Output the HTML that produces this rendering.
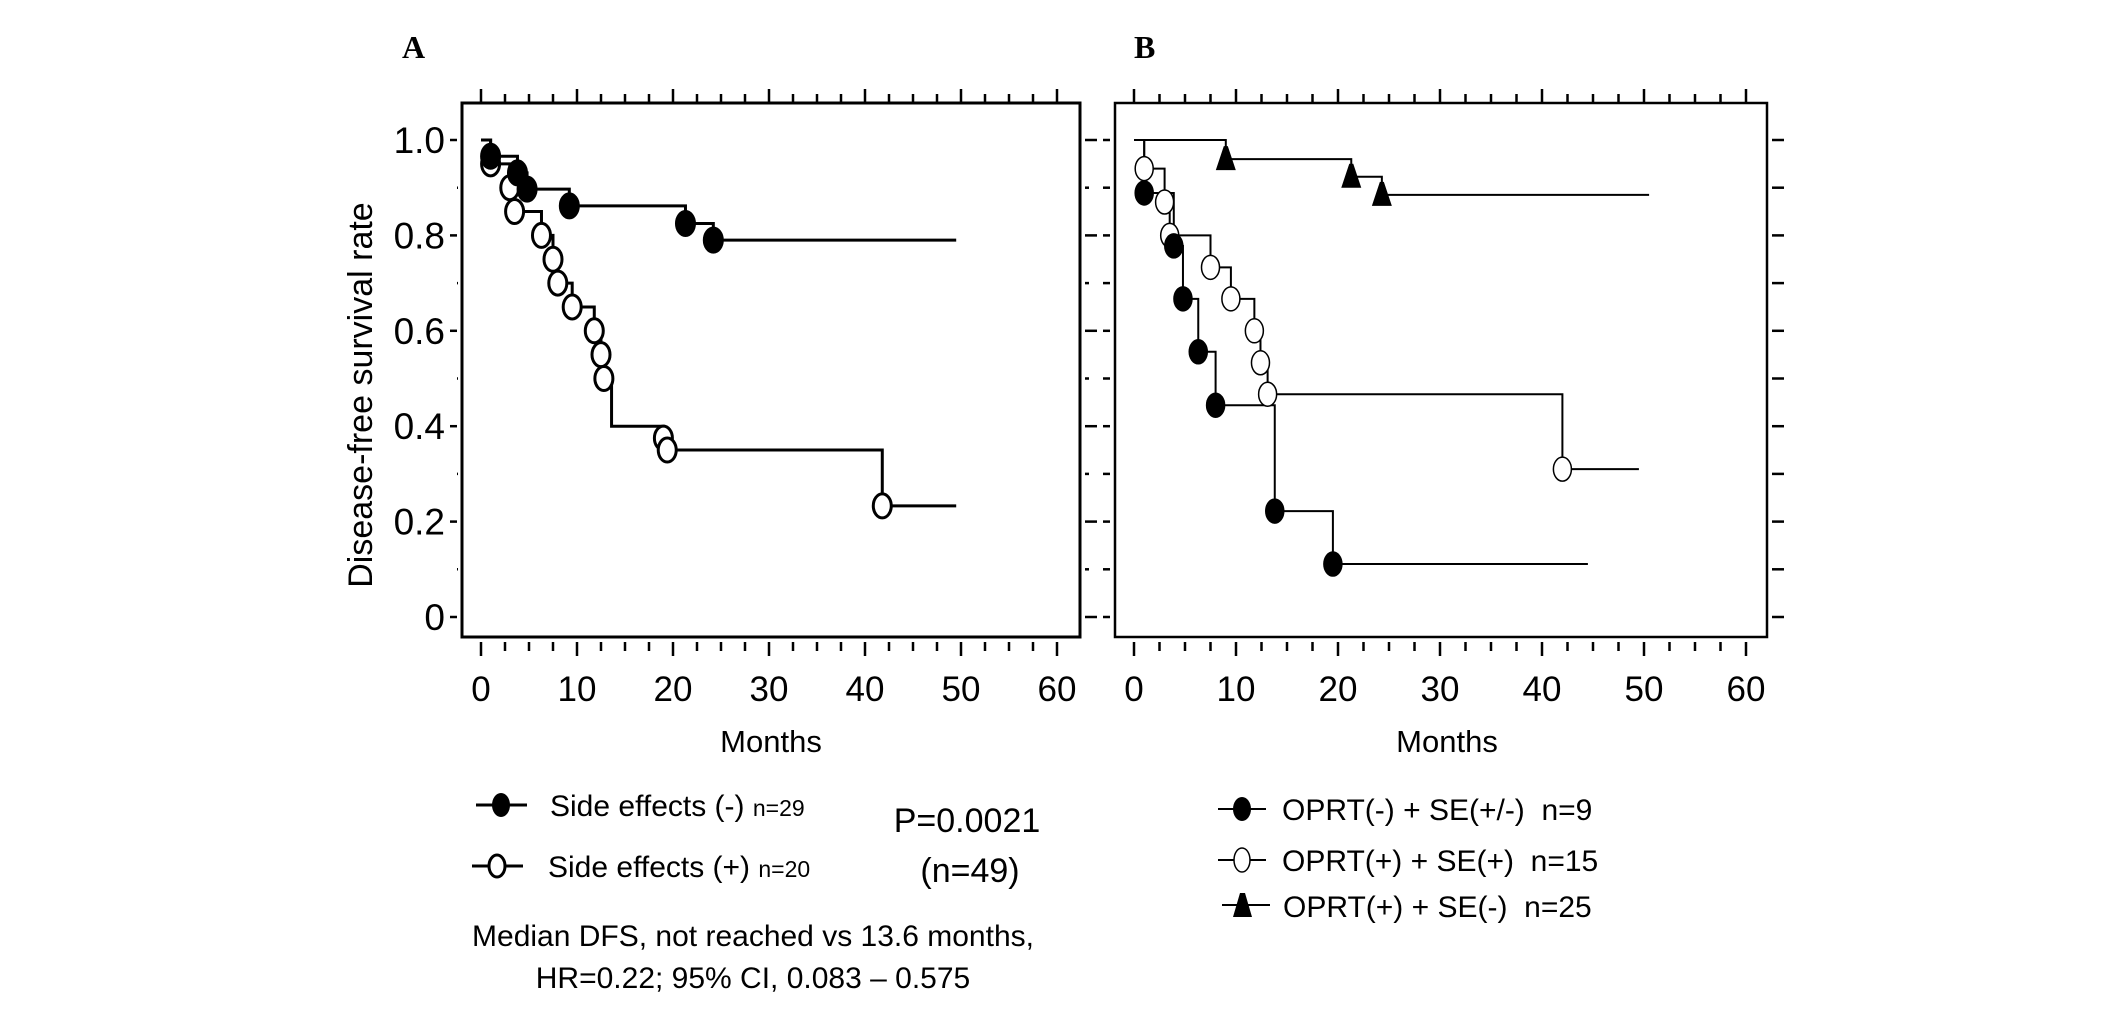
<!DOCTYPE html>
<html><head><meta charset="utf-8"><style>
body{margin:0;background:#fff;}
svg{display:block;font-family:"Liberation Sans",sans-serif;}
</style></head><body>
<svg id="c" width="2126" height="1015" viewBox="0 0 2126 1015" xmlns="http://www.w3.org/2000/svg">
<text x="402" y="58" font-family="Liberation Serif" font-weight="bold" font-size="32">A</text>
<text x="1134" y="58" font-family="Liberation Serif" font-weight="bold" font-size="32">B</text>
<g id="pa"></g>
<g id="pb"></g>
<text x="372" y="395" transform="rotate(-90 372 395)" text-anchor="middle" font-size="34">Disease-free survival rate</text>
<text x="771" y="752" text-anchor="middle" font-size="31">Months</text>
<text x="1447" y="752" text-anchor="middle" font-size="31">Months</text>
<g>
<line x1="476" y1="805" x2="527" y2="805" stroke="#000" stroke-width="3"/>
<ellipse cx="501" cy="805" rx="9" ry="12" fill="#000"/>
<text x="550" y="816" font-size="30">Side effects (-) <tspan font-size="23">n=29</tspan></text>
<line x1="472" y1="866" x2="523" y2="866" stroke="#000" stroke-width="3"/>
<ellipse cx="497" cy="866" rx="8" ry="11" fill="#fff" stroke="#000" stroke-width="3"/>
<text x="548" y="877" font-size="30">Side effects (+) <tspan font-size="23">n=20</tspan></text>
<text x="967" y="832" text-anchor="middle" font-size="34">P=0.0021</text>
<text x="970" y="882" text-anchor="middle" font-size="34">(n=49)</text>
<text x="753" y="946" text-anchor="middle" font-size="30">Median DFS, not reached vs 13.6 months,</text>
<text x="753" y="988" text-anchor="middle" font-size="30">HR=0.22; 95% CI, 0.083 – 0.575</text>
</g>
<g>
<line x1="1218" y1="809" x2="1266" y2="809" stroke="#000" stroke-width="2"/>
<ellipse cx="1242" cy="809" rx="9" ry="12" fill="#000"/>
<text x="1282" y="820" font-size="30">OPRT(-) + SE(+/-)&#160;&#160;n=9</text>
<line x1="1218" y1="860" x2="1266" y2="860" stroke="#000" stroke-width="2"/>
<ellipse cx="1242" cy="860" rx="8" ry="12" fill="#fff" stroke="#000" stroke-width="1.5"/>
<text x="1282" y="871" font-size="30">OPRT(+) + SE(+)&#160;&#160;n=15</text>
<line x1="1222" y1="905" x2="1270" y2="905" stroke="#000" stroke-width="2"/>
<polygon points="1233,917 1252,917 1245,893 1240,893" fill="#000"/>
<text x="1283" y="917" font-size="30">OPRT(+) + SE(-)&#160;&#160;n=25</text>
</g>
</svg>
<script>
// Panel A data
const aTicksX = [0,10,20,30,40,50,60];
const aTicksY = [0,0.2,0.4,0.6,0.8,1.0];
const aTickLabelsY = ["0","0.2","0.4","0.6","0.8","1.0"];
const aNegTimes = [1,3.8,4.8,9.2,21.3,24.2];
const aNegSurv = [0.966,0.931,0.897,0.862,0.825,0.79];
const aNegEnd = 49.5;
const aPosTimes = [1,3,3.5,6.3,7.5,8,9.5,11.8,12.5,12.8,13.6,19,19.4,41.8];
const aPosSurv = [0.95,0.90,0.85,0.80,0.75,0.70,0.65,0.60,0.55,0.50,0.40,0.375,0.35,0.233];
const aPosMark = [1,1,1,1,1,1,1,1,1,1,0,1,1,1];
const aPosEnd = 49.5;
// Panel B data
const bNegTimes = [1,3.9,4.8,6.3,8,13.8,19.5];
const bNegSurv = [0.889,0.778,0.667,0.556,0.444,0.222,0.111];
const bNegEnd = 44.5;
const bPosTimes = [1,3,3.5,7.5,9.5,11.8,12.4,13.1,42];
const bPosSurv = [0.94,0.87,0.80,0.733,0.667,0.60,0.533,0.467,0.31];
const bPosEnd = 49.5;
const bTriTimes = [9,21.3,24.3];
const bTriSurv = [0.96,0.923,0.885];
const bTriEnd = 50.5;

const NS="http://www.w3.org/2000/svg";
function mk(parent,tag,attrs){const e=document.createElementNS(NS,tag);for(const k in attrs)e.setAttribute(k,attrs[k]);parent.appendChild(e);return e;}

function axes(g,box,x0,xs,y0,ys,sw,labels,minorY){
  const X=v=>x0+v*xs, Y=v=>y0-v*ys;
  const r=mk(g,'rect',{x:box[0],y:box[1],width:box[2]-box[0],height:box[3]-box[1],fill:'none',stroke:'#000','stroke-width':sw});
  
  
  for(let m=0;m<=60;m+=2.5){
    const big=m%10===0, L=big?14:9;
    mk(g,'line',{x1:X(m),x2:X(m),y1:box[1],y2:box[1]-L,stroke:'#000','stroke-width':2.5});
    mk(g,'line',{x1:X(m),x2:X(m),y1:box[3]+5,y2:box[3]+5+L,stroke:'#000','stroke-width':2.5});
  }
  aTicksX.forEach(v=>{
    const t=mk(g,'text',{x:X(v),y:701,'text-anchor':'middle','font-size':35});
    t.textContent=String(v);
    
    
  });
  for(let k=0;k<=10;k++){
    const v=k/10, major=k%2===0 || !minorY;
    mk(g,'line',{x1:box[0]-(major?12:4),x2:box[0]-5,y1:Y(v),y2:Y(v),stroke:'#000','stroke-width':2.5});
    mk(g,'line',{x1:box[2]+5,x2:box[2]+(major?17:9),y1:Y(v),y2:Y(v),stroke:'#000','stroke-width':2.5});
  }
  if(labels) aTicksY.forEach((v,i)=>{
    const t=mk(g,'text',{x:445,y:Y(v)+13,'text-anchor':'end','font-size':37});
    t.textContent=aTickLabelsY[i];
    
    
  });
  return [X,Y];
}
function curve(g,X,Y,times,surv,end,sw,name){
  let d=`M${X(0)},${Y(1)}`;
  times.forEach((t,i)=>{d+=` H${X(t)} V${Y(surv[i])}`;});
  d+=` H${X(end)}`;
  const p=mk(g,'path',{d:d,fill:'none',stroke:'#000','stroke-width':sw});
  
  
}
function marks(g,X,Y,times,surv,type,sw,mask){
  times.forEach((t,i)=>{
    if(mask && !mask[i]) return;
    let e;
    if(type==='tri'){const x=X(t),y=Y(surv[i]);e=mk(g,'polygon',{points:`${x-10},${y+11} ${x+10},${y+11} ${x+2},${y-13} ${x-2},${y-13}`,fill:'#000'});}
    else e=mk(g,'ellipse',{cx:X(t),cy:Y(surv[i]),rx:9,ry:12,fill:type==='fill'?'#000':'#fff',stroke:'#000','stroke-width':sw});
    
    
  });
}
const ga=document.getElementById('pa');
const [XA,YA]=axes(ga,[462,103,1080,637],481,9.6,617,477,3,true,true);
curve(ga,XA,YA,aNegTimes,aNegSurv,aNegEnd,3,'curve-se-neg');
curve(ga,XA,YA,aPosTimes,aPosSurv,aPosEnd,3,'curve-se-pos');
marks(ga,XA,YA,aPosTimes,aPosSurv,'open',3,aPosMark);
marks(ga,XA,YA,aNegTimes,aNegSurv,'fill',3);
const gb=document.getElementById('pb');
const [XB,YB]=axes(gb,[1115,103,1767,637],1134,10.2,617,477,2.5,false,false);
curve(gb,XB,YB,bTriTimes,bTriSurv,bTriEnd,2,'curve-oprt-pos-se-neg');
curve(gb,XB,YB,bPosTimes,bPosSurv,bPosEnd,2,'curve-oprt-pos-se-pos');
curve(gb,XB,YB,bNegTimes,bNegSurv,bNegEnd,2,'curve-oprt-neg');
marks(gb,XB,YB,bPosTimes,bPosSurv,'open',1.5);
marks(gb,XB,YB,bNegTimes,bNegSurv,'fill',1.5);
marks(gb,XB,YB,bTriTimes,bTriSurv,'tri',1.5);
</script>
</body></html>
